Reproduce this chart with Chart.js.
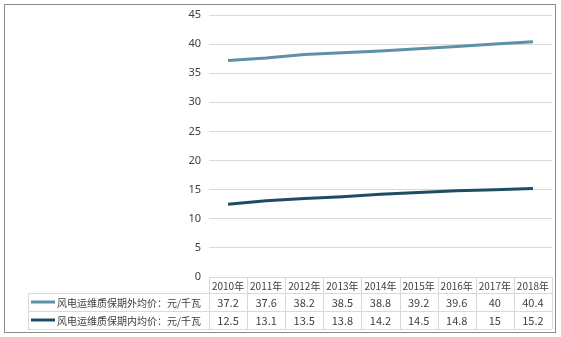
<!DOCTYPE html>
<html>
<head>
<meta charset="utf-8">
<script src="https://cdn.jsdelivr.net/npm/chart.js@4/dist/chart.umd.min.js"></script>
<style>
    body { margin: 0; background: #fff; }
    #wrap { position: relative; width: 561px; height: 337px; }
</style>
</head>
<body>
<div id="wrap"><canvas id="priceChart" width="561" height="337"></canvas></div>
<script>
const years = ["2010年", "2011年", "2012年", "2013年", "2014年", "2015年", "2016年", "2017年", "2018年"];
const outsideWarranty = [37.2, 37.6, 38.2, 38.5, 38.8, 39.2, 39.6, 40, 40.4];
const insideWarranty = [12.5, 13.1, 13.5, 13.8, 14.2, 14.5, 14.8, 15, 15.2];
const seriesNames = ["风电运维质保期外均价：元/千瓦", "风电运维质保期内均价：元/千瓦"];
const yTicks = [0, 5, 10, 15, 20, 25, 30, 35, 40, 45];

const colors = ["#5e90a8", "#1d4c63"];
const gridColor = "#d9d9d9";
const textColor = "#404040";
const cjkFont = "'Noto Sans CJK SC', 'DejaVu Sans', sans-serif";

// data table under the plot, columns follow the x scale
const dataTable = {
    id: 'dataTable',
    afterDraw(chart) {
        const ctx = chart.ctx;
        const x = chart.scales.x;
        const area = chart.chartArea;
        const rows = [area.bottom, 293, 311, 329];
        const legendLeft = 28;
        const colW = (area.right - area.left) / years.length;

        ctx.save();
        ctx.strokeStyle = gridColor;
        ctx.lineWidth = 1;

        // horizontal rules
        ctx.beginPath();
        ctx.moveTo(area.left, rows[0] + 0.5);
        ctx.lineTo(area.right, rows[0] + 0.5);
        for (let i = 1; i < rows.length; i++) {
            ctx.moveTo(legendLeft, rows[i] + 0.5);
            ctx.lineTo(area.right, rows[i] + 0.5);
        }
        // vertical rules
        for (let i = 0; i <= years.length; i++) {
            const vx = Math.round(area.left + i * colW) + 0.5;
            ctx.moveTo(vx, rows[0]);
            ctx.lineTo(vx, rows[3]);
        }
        ctx.moveTo(legendLeft + 0.5, rows[1]);
        ctx.lineTo(legendLeft + 0.5, rows[3]);
        ctx.stroke();

        ctx.fillStyle = textColor;
        ctx.textAlign = 'center';
        ctx.textBaseline = 'middle';
        const series = [outsideWarranty, insideWarranty];
        years.forEach((yr, i) => {
            const cx = x.getPixelForValue(i);
            ctx.font = "10px " + cjkFont;
            ctx.fillText(yr, cx, (rows[0] + rows[1]) / 2 + 1);
            ctx.font = "11px " + cjkFont;
            series.forEach((vals, s) => {
                ctx.fillText(String(vals[i]), cx, (rows[s + 1] + rows[s + 2]) / 2 + 1);
            });
        });

        // legend keys
        ctx.textAlign = 'left';
        ctx.font = "10px " + cjkFont;
        series.forEach((vals, s) => {
            const cy = (rows[s + 1] + rows[s + 2]) / 2;
            ctx.strokeStyle = colors[s];
            ctx.lineWidth = 3;
            ctx.beginPath();
            ctx.moveTo(31, cy);
            ctx.lineTo(55, cy);
            ctx.stroke();
            ctx.fillStyle = textColor;
            ctx.fillText(seriesNames[s], 57, cy + 1);
        });

        // outer frame
        ctx.strokeStyle = "#8c8c8c";
        ctx.lineWidth = 1;
        ctx.strokeRect(4.5, 4.5, 551, 328);
        ctx.restore();
    }
};

new Chart(document.getElementById('priceChart').getContext('2d'), {
    type: 'line',
    data: {
        labels: years,
        datasets: [
            { label: seriesNames[0], data: outsideWarranty, borderColor: colors[0], backgroundColor: colors[0] },
            { label: seriesNames[1], data: insideWarranty, borderColor: colors[1], backgroundColor: colors[1] }
        ]
    },
    options: {
        responsive: false,
        animation: false,
        devicePixelRatio: 1,
        layout: { padding: { left: 160, right: 9, top: 15, bottom: 60 } },
        elements: {
            line: { borderWidth: 3, tension: 0 },
            point: { radius: 0 }
        },
        plugins: {
            legend: { display: false },
            tooltip: { enabled: false }
        },
        scales: {
            x: {
                offset: true,
                afterFit(scale) { scale.height = 0; },
                grid: { display: false },
                border: { display: false },
                ticks: { display: false }
            },
            y: {
                min: 0,
                max: 45,
                afterBuildTicks(scale) {
                    scale.ticks = yTicks.map(v => ({ value: v }));
                },
                afterFit(scale) { scale.width = 49; },
                grid: { color: gridColor, drawTicks: false },
                border: { display: false },
                ticks: {
                    color: textColor,
                    padding: 8,
                    font: { family: "'Noto Sans', 'DejaVu Sans', sans-serif", size: 11 }
                }
            }
        }
    },
    plugins: [dataTable]
});
</script>
</body>
</html>
